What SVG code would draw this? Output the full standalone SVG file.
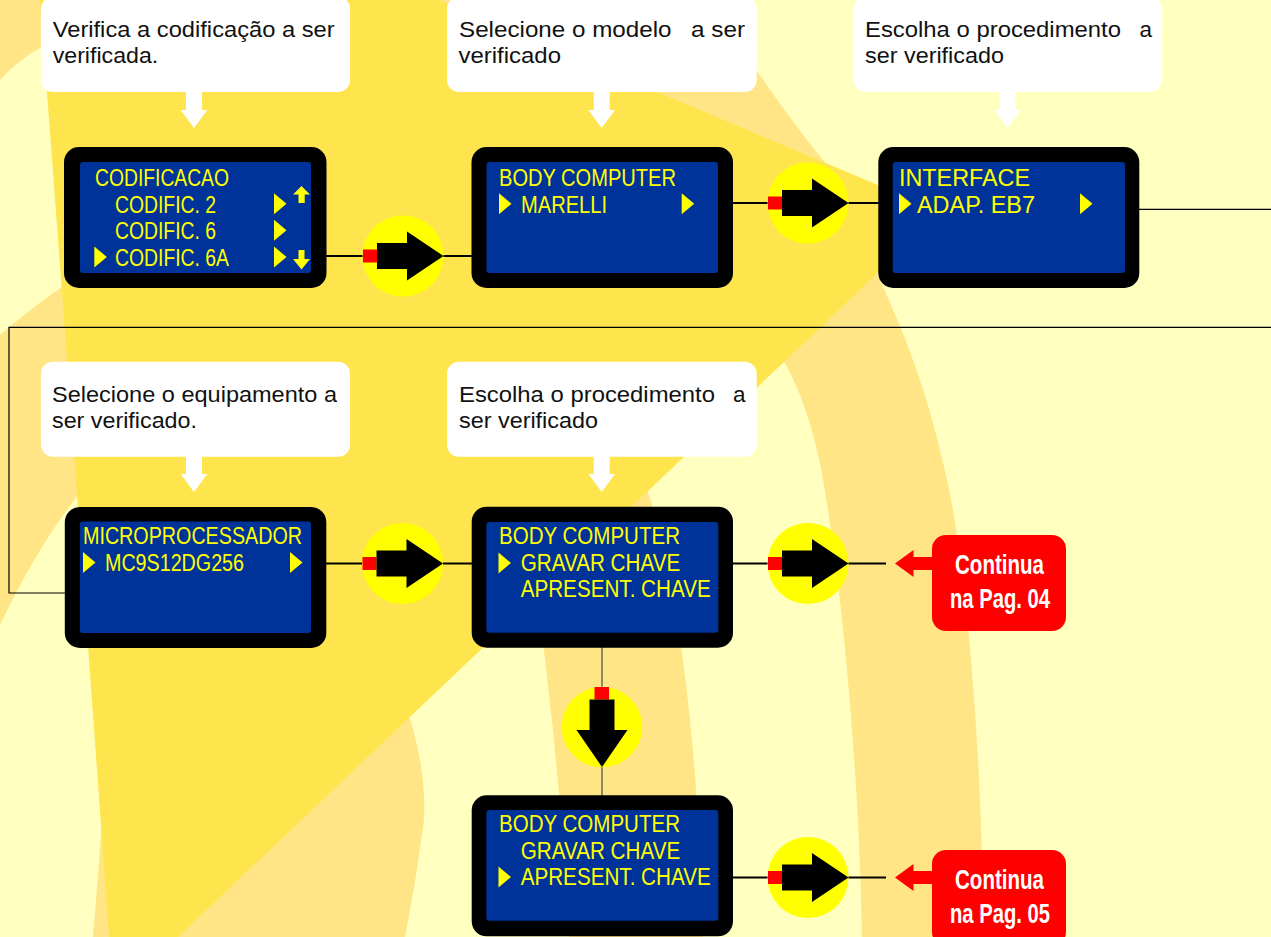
<svg xmlns="http://www.w3.org/2000/svg" xmlns:xlink="http://www.w3.org/1999/xlink" width="1271" height="937" viewBox="0 0 1271 937">
<defs>
<style>
.pale{fill:#FFFFC0}
.med{fill:#FFE585}
.bright{fill:#FFE54D}
.callout{fill:#FFFFFF}
.ct{font-family:"Liberation Sans",Arial,sans-serif;font-size:22.5px;fill:#111111}
.frame{fill:#000000}
.lcd{fill:#003399}
.st{font-family:"Liberation Sans",Arial,sans-serif;font-size:23px;fill:#FFFF00}
.ylw{fill:#FFFF00}
.circ{fill:#FFFF00}
.red{fill:#FF0000}
.blk{fill:#000000}
.wline{stroke:#000000;stroke-width:2;fill:none}
.thin{stroke:#000000;stroke-width:1.2;fill:none}
.vline{stroke:#4a4a4a;stroke-width:1.2;fill:none}
.wt{fill:#FFFFFF}
.rt{font-family:"Liberation Sans",Arial,sans-serif;font-size:28px;font-weight:bold;fill:#FFFFFF}
</style>
<path id="tri" d="M0,0 L12.5,10.5 L0,21 Z" fill="#FFFF00"/>
<path id="warrow" d="M-8,0 H8 V18 H13.3 L0,36 L-13.3,18 H-8 Z" fill="#FFFFFF"/>
<g id="rarrow">
<circle cx="0" cy="0" r="40.5" fill="#FFFF00"/>
<rect x="-40" y="-6.5" width="14" height="13" fill="#FF0000"/>
<path d="M-26,-13 H4 V-24.5 L40.5,0 L4,24.5 V13 H-26 Z" fill="#000000"/>
</g>
</defs>

<g id="background">
<rect x="0" y="0" width="1271" height="937" class="pale"/>
<path class="med" d="M0,0 H45 V45 Q20,58 0,80 Z"/>
<path class="med" d="M0,335 Q35,305 65,285 L90,480 Q40,540 0,625 Z"/>
<path class="med" d="M430,0 L712,0 C730,35 790,120 823,160 C850,190 900,210 960,215 L600,150 Z"/>
<path class="med" d="M760,330 C800,370 815,440 821,468 C845,600 860,800 862,937 L983,937 C983,750 965,560 947,480 C930,400 905,330 870,260 Z"/>
<path class="med" d="M520,480 C535,560 545,660 552,720 C560,800 566,870 569,937 L703,937 C700,820 692,720 680,640 C670,560 655,510 640,470 Z"/>
<path class="med" d="M110,690 L400,690 C420,740 430,800 421,840 C416,880 410,910 405,937 L93,937 C98,880 104,800 110,690 Z"/>
<path class="bright" d="M40,0 L439,0 L942,212 L178,937 L109,937 Q75,460 40,0 Z"/>
</g>

<g id="connectors">
<line class="wline" x1="326" y1="256" x2="364" y2="256"/>
<line class="wline" x1="443" y1="256" x2="472" y2="256"/>
<line class="wline" x1="733" y1="203" x2="769" y2="203"/>
<line class="wline" x1="848" y1="203" x2="879" y2="203"/>
<line class="thin" x1="1138" y1="209.3" x2="1271" y2="209.3"/>
<polyline class="thin" points="1271,327.3 9,327.3 9,593 66,593"/>
<line class="wline" x1="326" y1="563.5" x2="363" y2="563.5"/>
<line class="wline" x1="442" y1="563.5" x2="472" y2="563.5"/>
<line class="wline" x1="733" y1="563.5" x2="769" y2="563.5"/>
<line class="wline" x1="848" y1="563.5" x2="886" y2="563.5"/>
<line class="wline" x1="733" y1="877.5" x2="769" y2="877.5"/>
<line class="wline" x1="848" y1="877.5" x2="886" y2="877.5"/>
<line class="vline" x1="602" y1="647" x2="602" y2="796"/>
<use xlink:href="#rarrow" href="#rarrow" x="403" y="256"/>
<use xlink:href="#rarrow" href="#rarrow" x="808" y="203"/>
<use xlink:href="#rarrow" href="#rarrow" x="402.5" y="563.5"/>
<use xlink:href="#rarrow" href="#rarrow" x="808" y="563.5"/>
<use xlink:href="#rarrow" href="#rarrow" x="808" y="877.5"/>
<g id="down-arrow">
<circle cx="602" cy="727" r="40.3" class="circ"/>
<rect x="594.5" y="687" width="14.5" height="12.5" class="red"/>
<path class="blk" d="M589.5,699.5 H614.5 V730 H627.5 L602,767 L576.5,730 H589.5 Z"/>
</g>
<path class="red" d="M895,563.5 L913.5,550 V557 H933 V570 H913.5 V577 Z"/>
<path class="red" d="M895,877.5 L913.5,864 V871 H933 V884 H913.5 V891 Z"/>
<use xlink:href="#warrow" href="#warrow" x="194" y="92"/>
<use xlink:href="#warrow" href="#warrow" x="601.7" y="92"/>
<use xlink:href="#warrow" href="#warrow" x="1007.5" y="92"/>
<use xlink:href="#warrow" href="#warrow" x="194" y="456"/>
<use xlink:href="#warrow" href="#warrow" x="601.7" y="456"/>
</g>

<g id="callout-1">
<rect class="callout" x="41" y="-3.3" width="309" height="95.3" rx="12"/>
<text class="ct" x="52.7" y="36.7" textLength="282" lengthAdjust="spacingAndGlyphs">Verifica a codificação a ser</text>
<text class="ct" x="52.7" y="63.3" textLength="105.6" lengthAdjust="spacingAndGlyphs">verificada.</text>
</g>
<g id="callout-2">
<rect class="callout" x="447" y="-3.3" width="309.7" height="95.3" rx="12"/>
<text class="ct" x="459" y="36.7" textLength="212.5" lengthAdjust="spacingAndGlyphs">Selecione o modelo</text>
<text class="ct" x="691" y="36.7" textLength="54" lengthAdjust="spacingAndGlyphs">a ser</text>
<text class="ct" x="458.5" y="63.3" textLength="102.5" lengthAdjust="spacingAndGlyphs">verificado</text>
</g>
<g id="callout-3">
<rect class="callout" x="853.6" y="-3.3" width="308.4" height="95.3" rx="12"/>
<text class="ct" x="865" y="36.7" textLength="256" lengthAdjust="spacingAndGlyphs">Escolha o procedimento</text>
<text class="ct" x="1139.5" y="36.7">a</text>
<text class="ct" x="865" y="63.3" textLength="139" lengthAdjust="spacingAndGlyphs">ser verificado</text>
</g>
<g id="callout-4">
<rect class="callout" x="41" y="361.7" width="309" height="95" rx="12"/>
<text class="ct" x="52" y="401.7" textLength="285" lengthAdjust="spacingAndGlyphs">Selecione o equipamento a</text>
<text class="ct" x="52" y="428.3" textLength="145" lengthAdjust="spacingAndGlyphs">ser verificado.</text>
</g>
<g id="callout-5">
<rect class="callout" x="447" y="361.7" width="309.7" height="95" rx="12"/>
<text class="ct" x="459" y="401.7" textLength="256" lengthAdjust="spacingAndGlyphs">Escolha o procedimento</text>
<text class="ct" x="733" y="401.7">a</text>
<text class="ct" x="459" y="428.3" textLength="139" lengthAdjust="spacingAndGlyphs">ser verificado</text>
</g>

<g id="screen-codificacao">
<rect class="frame" x="64" y="147" width="262.5" height="141" rx="15"/>
<rect class="lcd" x="80" y="162" width="231" height="111" rx="3"/>
<text class="st" x="95" y="186" textLength="134" lengthAdjust="spacingAndGlyphs">CODIFICACAO</text>
<text class="st" x="115" y="212.7" textLength="101" lengthAdjust="spacingAndGlyphs">CODIFIC. 2</text>
<text class="st" x="115" y="239.3" textLength="101" lengthAdjust="spacingAndGlyphs">CODIFIC. 6</text>
<text class="st" x="115" y="266" textLength="114" lengthAdjust="spacingAndGlyphs">CODIFIC. 6A</text>
<use xlink:href="#tri" href="#tri" x="94.3" y="246.5"/>
<use xlink:href="#tri" href="#tri" x="274" y="193.2"/>
<use xlink:href="#tri" href="#tri" x="274" y="219.8"/>
<use xlink:href="#tri" href="#tri" x="274" y="246.5"/>
<path class="ylw" d="M301.5,186 L310,194.5 H304.7 V203 H298.5 V194.5 H293 Z"/>
<path class="ylw" d="M298.5,250 H304.5 V259 H310 L301.5,269.5 L293,259 H298.5 Z"/>
</g>
<g id="screen-marelli">
<rect class="frame" x="471.5" y="147" width="261.5" height="141" rx="15"/>
<rect class="lcd" x="486.5" y="162" width="231.5" height="111" rx="3"/>
<text class="st" x="499" y="186" textLength="177" lengthAdjust="spacingAndGlyphs">BODY COMPUTER</text>
<text class="st" x="521" y="212.7" textLength="86" lengthAdjust="spacingAndGlyphs">MARELLI</text>
<use xlink:href="#tri" href="#tri" x="499" y="193.2"/>
<use xlink:href="#tri" href="#tri" x="681.7" y="193.2"/>
</g>
<g id="screen-interface">
<rect class="frame" x="878.3" y="147" width="261" height="141" rx="15"/>
<rect class="lcd" x="892.7" y="162" width="232.3" height="111" rx="3"/>
<text class="st" x="899" y="186" textLength="131" lengthAdjust="spacingAndGlyphs">INTERFACE</text>
<text class="st" x="917" y="212.7" textLength="118" lengthAdjust="spacingAndGlyphs">ADAP. EB7</text>
<use xlink:href="#tri" href="#tri" x="899" y="193.2"/>
<use xlink:href="#tri" href="#tri" x="1080" y="193.2"/>
</g>
<g id="screen-micro">
<rect class="frame" x="64.8" y="507" width="261.5" height="141" rx="15"/>
<rect class="lcd" x="79.8" y="521.5" width="231.2" height="111.5" rx="3"/>
<text class="st" x="83" y="544" textLength="219" lengthAdjust="spacingAndGlyphs">MICROPROCESSADOR</text>
<text class="st" x="105" y="570.7" textLength="139" lengthAdjust="spacingAndGlyphs">MC9S12DG256</text>
<use xlink:href="#tri" href="#tri" x="83" y="552"/>
<use xlink:href="#tri" href="#tri" x="290" y="552"/>
</g>
<g id="screen-gravar">
<rect class="frame" x="471.7" y="506.7" width="261.3" height="141" rx="15"/>
<rect class="lcd" x="486.3" y="522" width="232" height="110.7" rx="3"/>
<text class="st" x="499" y="544" textLength="181" lengthAdjust="spacingAndGlyphs">BODY COMPUTER</text>
<text class="st" x="520.7" y="570.7" textLength="159.5" lengthAdjust="spacingAndGlyphs">GRAVAR CHAVE</text>
<text class="st" x="520.7" y="597.3" textLength="190" lengthAdjust="spacingAndGlyphs">APRESENT. CHAVE</text>
<use xlink:href="#tri" href="#tri" x="498.5" y="552.5"/>
</g>
<g id="screen-apresent">
<rect class="frame" x="471.7" y="795.3" width="261.3" height="141" rx="15"/>
<rect class="lcd" x="486.3" y="810" width="232" height="110.7" rx="3"/>
<text class="st" x="499" y="832" textLength="181" lengthAdjust="spacingAndGlyphs">BODY COMPUTER</text>
<text class="st" x="520.7" y="858.7" textLength="159.5" lengthAdjust="spacingAndGlyphs">GRAVAR CHAVE</text>
<text class="st" x="520.7" y="885.3" textLength="190" lengthAdjust="spacingAndGlyphs">APRESENT. CHAVE</text>
<use xlink:href="#tri" href="#tri" x="498.5" y="866.5"/>
</g>
<g id="continua-04">
<rect class="red" x="932" y="535" width="134" height="96" rx="14"/>
<text class="rt" x="955" y="574" textLength="89" lengthAdjust="spacingAndGlyphs">Continua</text>
<text class="rt" x="950" y="607.5" textLength="100" lengthAdjust="spacingAndGlyphs">na Pag. 04</text>
</g>
<g id="continua-05">
<rect class="red" x="932" y="850" width="134" height="96" rx="14"/>
<text class="rt" x="955" y="889" textLength="89" lengthAdjust="spacingAndGlyphs">Continua</text>
<text class="rt" x="950" y="922.5" textLength="100" lengthAdjust="spacingAndGlyphs">na Pag. 05</text>
</g>
</svg>
